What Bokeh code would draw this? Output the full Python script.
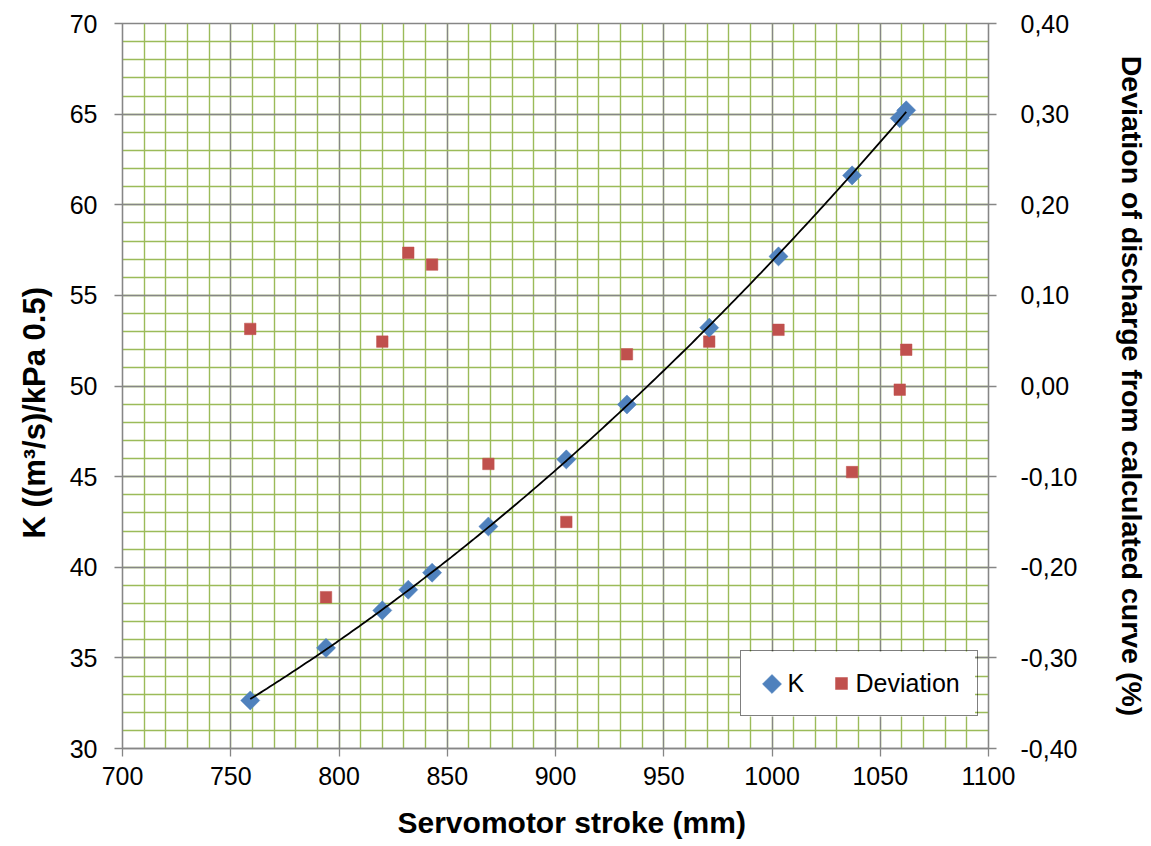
import numpy as np
from bokeh.plotting import figure
from bokeh.models import (Range1d, LinearAxis, SingleIntervalTicker, FixedTicker,
                          CustomJSTickFormatter, Legend, LegendItem, Title, BoxAnnotation)
from bokeh.embed import file_html
from bokeh.resources import INLINE

# ---- data ----
stroke = [759, 794, 820, 832, 843, 869, 905, 933, 971, 1003, 1037, 1059, 1062]
k_values = [32.65, 35.55, 37.62, 38.76, 39.70, 42.25, 45.95, 48.98, 53.22, 57.15, 61.62, 64.77, 65.21]
deviation = [0.063, -0.233, 0.049, 0.147, 0.134, -0.086, -0.150, 0.035, 0.049, 0.062, -0.095, -0.004, 0.040]

x_ticks_interval = 50
dev_ticks = [-0.4, -0.3, -0.2, -0.1, 0.0, 0.1, 0.2, 0.3, 0.4]

FONT = "Liberation Sans"
GRAY = "#868686"
GREEN = "#9bbb59"
BLUE = "#4f81bd"
RED = "#c0504d"

FW, FH = 866, 725
X0, X1, Y0, Y1 = 700, 1100, 30, 70
SX = (X1 - X0) / FW
SY = (Y1 - Y0) / FH

p = figure(frame_width=FW, frame_height=FH,
           min_border_left=122, min_border_right=150, min_border_top=23, min_border_bottom=95,
           x_range=Range1d(X0, X1), y_range=Range1d(Y0, Y1),
           output_backend="svg", toolbar_location=None)
p.background_fill_color = "white"
p.border_fill_color = "white"
p.outline_line_color = GRAY
p.outline_line_width = 1.3

# axes
xt = SingleIntervalTicker(interval=x_ticks_interval, num_minor_ticks=5)
yt = SingleIntervalTicker(interval=5, num_minor_ticks=5)
p.xaxis.ticker = xt
p.yaxis.ticker = yt
p.xgrid.ticker = xt
p.ygrid.ticker = yt

for ax in (p.xaxis[0], p.yaxis[0]):
    ax.axis_line_color = GRAY
    ax.axis_line_width = 1.3
    ax.major_tick_line_color = GRAY
    ax.major_tick_line_width = 1.3
    ax.major_tick_out = 8
    ax.major_tick_in = 0
    ax.minor_tick_line_color = None
    ax.major_label_text_font = FONT
    ax.major_label_text_font_size = "25px"
    ax.major_label_text_color = "black"
p.xaxis.major_label_standoff = 10
p.yaxis.major_label_standoff = 17

for g in (p.xgrid[0], p.ygrid[0]):
    g.grid_line_color = GRAY
    g.grid_line_width = 1.3
    g.minor_grid_line_color = GREEN
    g.minor_grid_line_width = 1.4

# right axis
p.extra_y_ranges = {"dev": Range1d(-0.4, 0.4)}
rax = LinearAxis(y_range_name="dev", ticker=FixedTicker(ticks=dev_ticks),
                 formatter=CustomJSTickFormatter(code="return tick.toFixed(2).replace('.', ',');"))
rax.axis_line_color = GRAY
rax.axis_line_width = 1.3
rax.major_tick_line_color = GRAY
rax.major_tick_line_width = 1.3
rax.major_tick_out = 8
rax.major_tick_in = 0
rax.minor_tick_line_color = None
rax.major_label_text_font = FONT
rax.major_label_text_font_size = "25px"
rax.major_label_text_color = "black"
rax.major_label_standoff = 24
rax.axis_label = "Deviation of discharge from calculated curve (%)"
rax.axis_label_text_font = FONT
rax.axis_label_text_font_size = "28.5px"
rax.axis_label_text_font_style = "bold"
rax.axis_label_text_color = "black"
rax.axis_label_standoff = 36
p.add_layout(rax, "right")

# axis titles (offset from the frame edge like the original)
xtitle = Title(text="Servomotor stroke (mm)", align="left", offset=275,
               text_font=FONT, text_font_size="30px", text_font_style="bold",
               text_color="black", standoff=32)
p.add_layout(xtitle, "below")
ytitle = Title(text="K ((m³/s)/kPa 0.5)", align="left", offset=210,
               text_font=FONT, text_font_size="31px", text_font_style="bold",
               text_color="black", standoff=29)
p.add_layout(ytitle, "left")

# legend geometry (screen px, relative to frame bottom-left)
LEG_X, LEG_Y, LEG_PAD, LEG_GLYPH = 617.5, 32, 17, 30
LEG_W, LEG_H = 235, 65

# white legend background, drawn above the grid but below the marks
p.add_layout(BoxAnnotation(left=X0 + LEG_X * SX, right=X0 + (LEG_X + LEG_W) * SX,
                           bottom=Y0 + LEG_Y * SY, top=Y0 + (LEG_Y + LEG_H) * SY,
                           fill_color="white", fill_alpha=1.0, line_color=None,
                           level="underlay"))

# trendline fitted to K data
coef = np.polyfit(stroke, k_values, 2)
xs = np.linspace(min(stroke), max(stroke), 200)
ys = np.polyval(coef, xs)

rd = p.scatter(stroke, deviation, y_range_name="dev", marker="square", size=11.5,
               fill_color=RED, line_color=RED, line_width=0.5)
rk = p.scatter(stroke, k_values, marker="square", angle=np.pi / 4, size=13.5,
               fill_color=BLUE, line_color=BLUE, line_width=0.5)
p.line(xs, ys, line_color="black", line_width=1.8)

# diamond legend symbol (rotated square)
gx = X0 + (LEG_X + LEG_PAD + LEG_GLYPH / 2) * SX
gy = Y0 + (LEG_Y + LEG_H / 2) * SY
p.scatter([gx], [gy], marker="square", angle=np.pi / 4, size=13.5,
          fill_color=BLUE, line_color=BLUE, line_width=0.5)

k_leg = p.scatter([], [], marker="square", size=13.5, fill_color=None, line_color=None)
legend = Legend(items=[LegendItem(label="K", renderers=[k_leg]),
                       LegendItem(label="Deviation", renderers=[rd])],
                location=(LEG_X, LEG_Y), orientation="horizontal")
legend.label_text_font = FONT
legend.label_text_font_size = "25px"
legend.label_text_color = "black"
legend.border_line_color = "black"
legend.border_line_width = 1.5
legend.background_fill_alpha = 0.0
legend.padding = LEG_PAD
legend.spacing = 18
legend.glyph_width = LEG_GLYPH
legend.glyph_height = LEG_GLYPH
legend.label_standoff = 0
legend.margin = 0
p.add_layout(legend)

open("out.html", "w").write(file_html(p, INLINE))
